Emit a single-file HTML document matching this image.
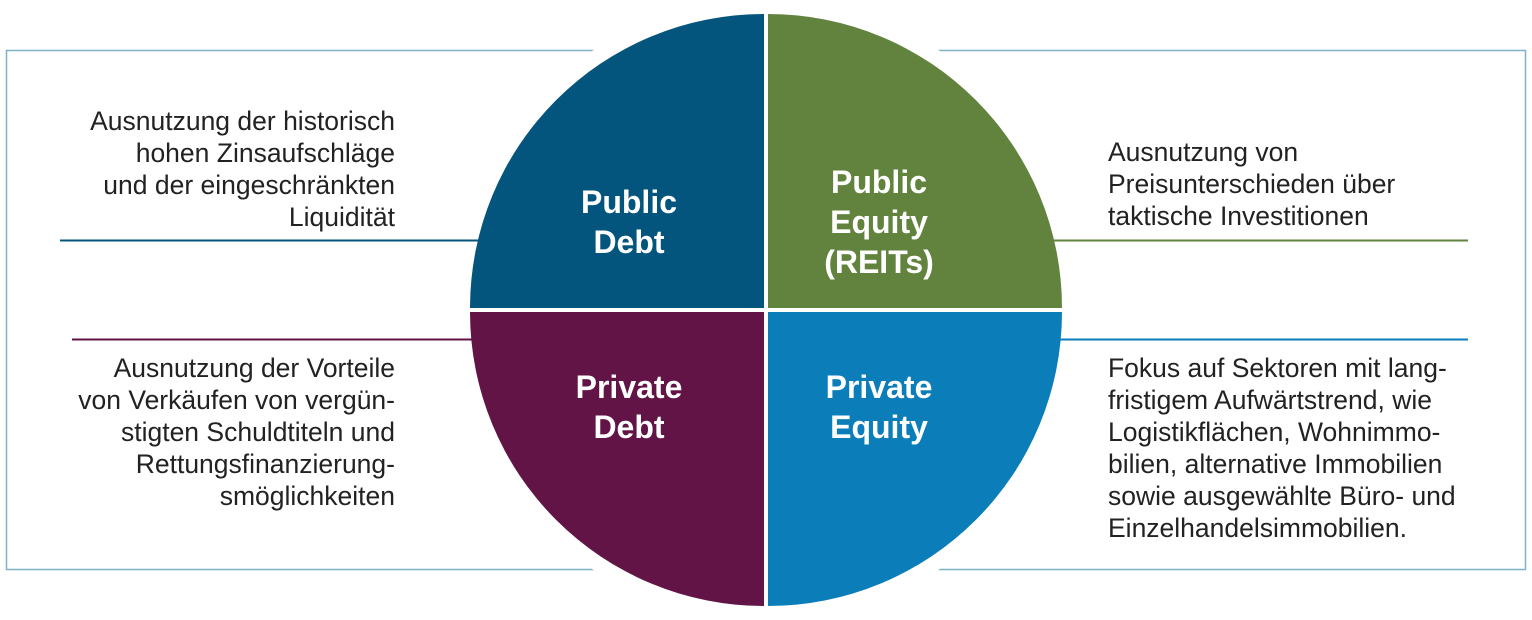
<!DOCTYPE html>
<html><head><meta charset="utf-8"><style>
html,body{margin:0;padding:0;background:#fff;}
svg{display:block}
.t{font-family:"Liberation Sans",sans-serif;font-size:26.5px;fill:#222;}
.q{font-family:"Liberation Sans",sans-serif;font-size:32px;font-weight:bold;fill:#fff;text-anchor:middle;}
</style></head><body>
<svg width="1532" height="620" viewBox="0 0 1532 620" xmlns="http://www.w3.org/2000/svg">
<rect x="6.5" y="50.5" width="1519" height="519" fill="none" stroke="#7fb0c6" stroke-width="1.5"/>
<circle cx="766" cy="310" r="312" fill="#fff"/>
<line x1="60" y1="240.5" x2="480" y2="240.5" stroke="#03557e" stroke-width="2"/>
<line x1="1050" y1="240.5" x2="1468" y2="240.5" stroke="#62833e" stroke-width="2"/>
<line x1="72" y1="339.5" x2="480" y2="339.5" stroke="#611445" stroke-width="2"/>
<line x1="1050" y1="339.5" x2="1468" y2="339.5" stroke="#0b7eba" stroke-width="2"/>
<path d="M764,308 L764,14 A294,294 0 0 0 470,308 Z" fill="#03557e"/>
<path d="M768,308 L768,14 A294,294 0 0 1 1062,308 Z" fill="#62833e"/>
<path d="M764,312 L764,606 A294,294 0 0 1 470,312 Z" fill="#611445"/>
<path d="M768,312 L768,606 A294,294 0 0 0 1062,312 Z" fill="#0b7eba"/>
<text class="q" x="629" y="213">Public</text>
<text class="q" x="629" y="253">Debt</text>
<text class="q" x="879" y="193">Public</text>
<text class="q" x="879" y="233">Equity</text>
<text class="q" x="879" y="273">(REITs)</text>
<text class="q" x="629" y="398">Private</text>
<text class="q" x="629" y="438">Debt</text>
<text class="q" x="879" y="398">Private</text>
<text class="q" x="879" y="438">Equity</text>
<g class="t" text-anchor="end">
<text x="395" y="130">Ausnutzung der historisch</text>
<text x="395" y="162">hohen Zinsaufschläge</text>
<text x="395" y="194">und der eingeschränkten</text>
<text x="395" y="226">Liquidität</text>
<text x="395" y="377">Ausnutzung der Vorteile</text>
<text x="395" y="409">von Verkäufen von vergün-</text>
<text x="395" y="441">stigten Schuldtiteln und</text>
<text x="395" y="473">Rettungsfinanzierung-</text>
<text x="395" y="505">smöglichkeiten</text>
</g>
<g class="t">
<text x="1108" y="161">Ausnutzung von</text>
<text x="1108" y="193">Preisunterschieden über</text>
<text x="1108" y="225">taktische Investitionen</text>
<text x="1108" y="377">Fokus auf Sektoren mit lang-</text>
<text x="1108" y="409">fristigem Aufwärtstrend, wie</text>
<text x="1108" y="441">Logistikflächen, Wohnimmo-</text>
<text x="1108" y="473">bilien, alternative Immobilien</text>
<text x="1108" y="505">sowie ausgewählte Büro- und</text>
<text x="1108" y="537">Einzelhandelsimmobilien.</text>
</g>
</svg>
</body></html>
